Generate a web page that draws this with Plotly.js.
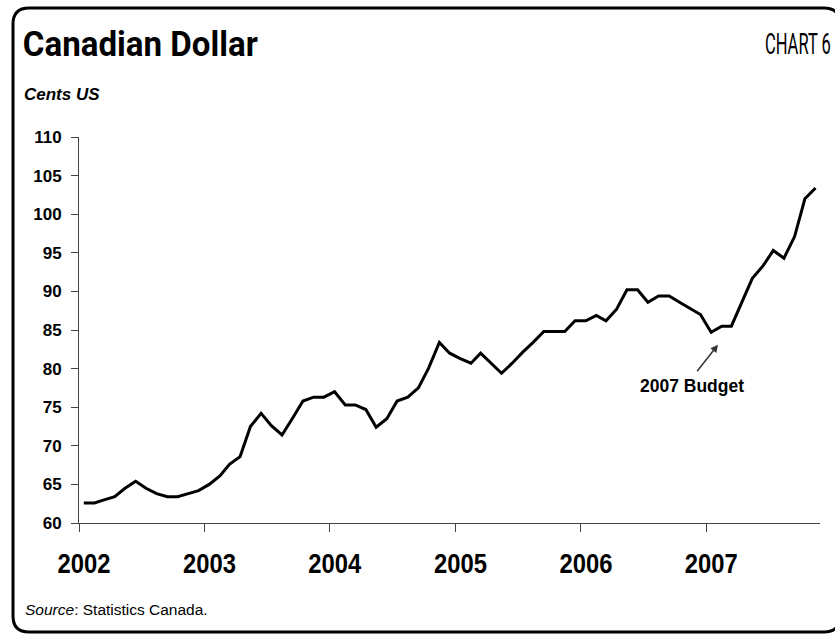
<!DOCTYPE html>
<html><head><meta charset="utf-8">
<script src="https://cdn.plot.ly/plotly-3.0.1.min.js"></script>
<style>html,body{margin:0;padding:0;background:#fff;} #chart{width:835px;height:635px;}</style>
</head><body><div id="chart"></div>
<script>
const months = [
 '2002-01','2002-02','2002-03','2002-04','2002-05','2002-06','2002-07','2002-08','2002-09','2002-10','2002-11','2002-12',
 '2003-01','2003-02','2003-03','2003-04','2003-05','2003-06','2003-07','2003-08','2003-09','2003-10','2003-11','2003-12',
 '2004-01','2004-02','2004-03','2004-04','2004-05','2004-06','2004-07','2004-08','2004-09','2004-10','2004-11','2004-12',
 '2005-01','2005-02','2005-03','2005-04','2005-05','2005-06','2005-07','2005-08','2005-09','2005-10','2005-11','2005-12',
 '2006-01','2006-02','2006-03','2006-04','2006-05','2006-06','2006-07','2006-08','2006-09','2006-10','2006-11','2006-12',
 '2007-01','2007-02','2007-03','2007-04','2007-05','2007-06','2007-07','2007-08','2007-09','2007-10','2007-11'
];
const centsUS = [
 62.6, 62.6, 63.0, 63.4, 64.5, 65.4, 64.5, 63.8, 63.4, 63.4, 63.8, 64.2,
 65.0, 66.1, 67.6, 68.6, 72.5, 74.2, 72.6, 71.4, 73.6, 75.8, 76.3, 76.3,
 77.0, 75.3, 75.3, 74.7, 72.4, 73.5, 75.8, 76.3, 77.5, 80.1, 83.4, 82.0,
 81.3, 80.7, 82.0, 80.7, 79.4, 80.7, 82.1, 83.4, 84.8, 84.8, 84.8, 86.2,
 86.2, 86.9, 86.2, 87.7, 90.2, 90.2, 88.6, 89.4, 89.4, 88.6, 87.8, 87.0,
 84.7, 85.5, 85.5, 88.7, 91.7, 93.3, 95.3, 94.3, 97.1, 102.0, 103.4
];
const yearLabels = ['2002','2003','2004','2005','2006','2007'];
const yTickVals = [60, 65, 70, 75, 80, 85, 90, 95, 100, 105, 110];

const W = 835, H = 635;
const L = 79, R = 15, T = 137, B = 112;
const PW = W - L - R, PH = H - T - B;
const fx = p => (p - L) / PW;
const fy = p => (T + PH - p) / PH;

const ROBOTO = 'Roboto, "Liberation Sans", Arial, sans-serif';
const ARIAL = '"Liberation Sans", Arial, sans-serif';

function roundedPath(x0, y0, x1, y1, r) {
  const P = (x, y) => fx(x) + ',' + fy(y);
  return 'M' + P(x0 + r, y0) + ' L' + P(x1 - r, y0) + ' Q' + P(x1, y0) + ' ' + P(x1, y0 + r) +
    ' L' + P(x1, y1 - r) + ' Q' + P(x1, y1) + ' ' + P(x1 - r, y1) +
    ' L' + P(x0 + r, y1) + ' Q' + P(x0, y1) + ' ' + P(x0, y1 - r) +
    ' L' + P(x0, y0 + r) + ' Q' + P(x0, y0) + ' ' + P(x0 + r, y0) + ' Z';
}

const xDates = months.map(m => m + '-15');

const trace = {
  x: xDates, y: centsUS, type: 'scatter', mode: 'lines',
  line: {color: '#000', width: 3}, hoverinfo: 'skip'
};

const layout = {
  width: W, height: H, autosize: false,
  margin: {l: L, r: R, t: T, b: B, pad: 0},
  paper_bgcolor: '#fff', plot_bgcolor: 'rgba(0,0,0,0)',
  showlegend: false,
  xaxis: {
    type: 'date', range: ['2002-01-01', '2007-11-28'],
    tickmode: 'array', tickvals: yearLabels.map(y => y + '-01-01'), ticktext: yearLabels,
    ticks: 'outside', ticklen: 8, tickwidth: 1, tickcolor: '#444',
    showline: true, linecolor: '#444', linewidth: 1,
    showgrid: false, zeroline: false,
    tickfont: {family: ARIAL, size: 28, color: '#000', weight: 'bold'},
    ticklabelshift: 5, ticklabelstandoff: 7, fixedrange: true
  },
  yaxis: {
    range: [60, 110], tickmode: 'array', tickvals: yTickVals,
    ticks: 'outside', ticklen: 7, tickwidth: 1, tickcolor: '#444',
    showline: true, linecolor: '#444', linewidth: 1,
    showgrid: false, zeroline: false,
    tickfont: {family: ARIAL, size: 17, color: '#000', weight: 'bold'},
    ticklabelstandoff: 6, fixedrange: true
  },
  shapes: [{
    type: 'path', xref: 'paper', yref: 'paper',
    path: roundedPath(13, 8, 840, 632, 16),
    line: {color: '#000', width: 3}, fillcolor: 'rgba(0,0,0,0)', layer: 'above'
  }],
  annotations: [
    {xref: 'paper', yref: 'paper', x: fx(140.5), y: fy(44), xanchor: 'center', yanchor: 'middle',
     text: 'Canadian Dollar', showarrow: false,
     font: {family: ROBOTO, size: 35, color: '#000', weight: 'bold'}},
    {xref: 'paper', yref: 'paper', x: fx(798), y: fy(44), xanchor: 'center', yanchor: 'middle',
     text: 'CHART 6', showarrow: false,
     font: {family: ROBOTO, size: 17, color: '#000'}},
    {xref: 'paper', yref: 'paper', x: fx(22), y: fy(94), xanchor: 'left', yanchor: 'middle',
     text: '<b><i>Cents US</i></b>', showarrow: false,
     font: {family: ARIAL, size: 17, color: '#000'}},
    {xref: 'paper', yref: 'paper', x: fx(23), y: fy(609), xanchor: 'left', yanchor: 'middle',
     text: '<i>Source</i>: Statistics Canada.', showarrow: false,
     font: {family: ARIAL, size: 15.5, color: '#000'}},
    {xref: 'x', yref: 'y', x: '2006-11-20', y: 77.7, xanchor: 'center', yanchor: 'middle',
     text: '<b>2007 Budget</b>', showarrow: false,
     font: {family: ARIAL, size: 17.5, color: '#000'}},
    {xref: 'x', yref: 'y', x: '2007-02-04', y: 83.1, ax: -22, ay: 28,
     text: '', showarrow: true, arrowhead: 2, arrowsize: 1, arrowwidth: 1.5, arrowcolor: '#333'}
  ]
};

// condensed-face emulation for texts set in a narrow typeface in the reference
const squeeze = {'Canadian Dollar': {w: 235, sy: 1}, 'CHART 6': {w: 66, sy: 1.72}};
const yearLabelWidth = 53;

Plotly.newPlot('chart', [trace], layout, {staticPlot: true, displayModeBar: false}).then(gd => {
  gd.querySelectorAll('.xtick text').forEach(t => {
    t.setAttribute('textLength', yearLabelWidth);
    t.setAttribute('lengthAdjust', 'spacingAndGlyphs');
  });
  gd.querySelectorAll('text.annotation-text').forEach(t => {
    const s = squeeze[t.textContent];
    if (s) {
      t.setAttribute('textLength', s.w);
      t.setAttribute('lengthAdjust', 'spacingAndGlyphs');
      if (s.sy !== 1) {
        const bb = t.getBBox();
        const cx = bb.x + bb.width / 2, cy = bb.y + bb.height / 2;
        t.setAttribute('transform',
          'translate(' + cx + ',' + cy + ') scale(1,' + s.sy + ') translate(' + (-cx) + ',' + (-cy) + ')');
      }
    }
  });
});
</script>
</body></html>
